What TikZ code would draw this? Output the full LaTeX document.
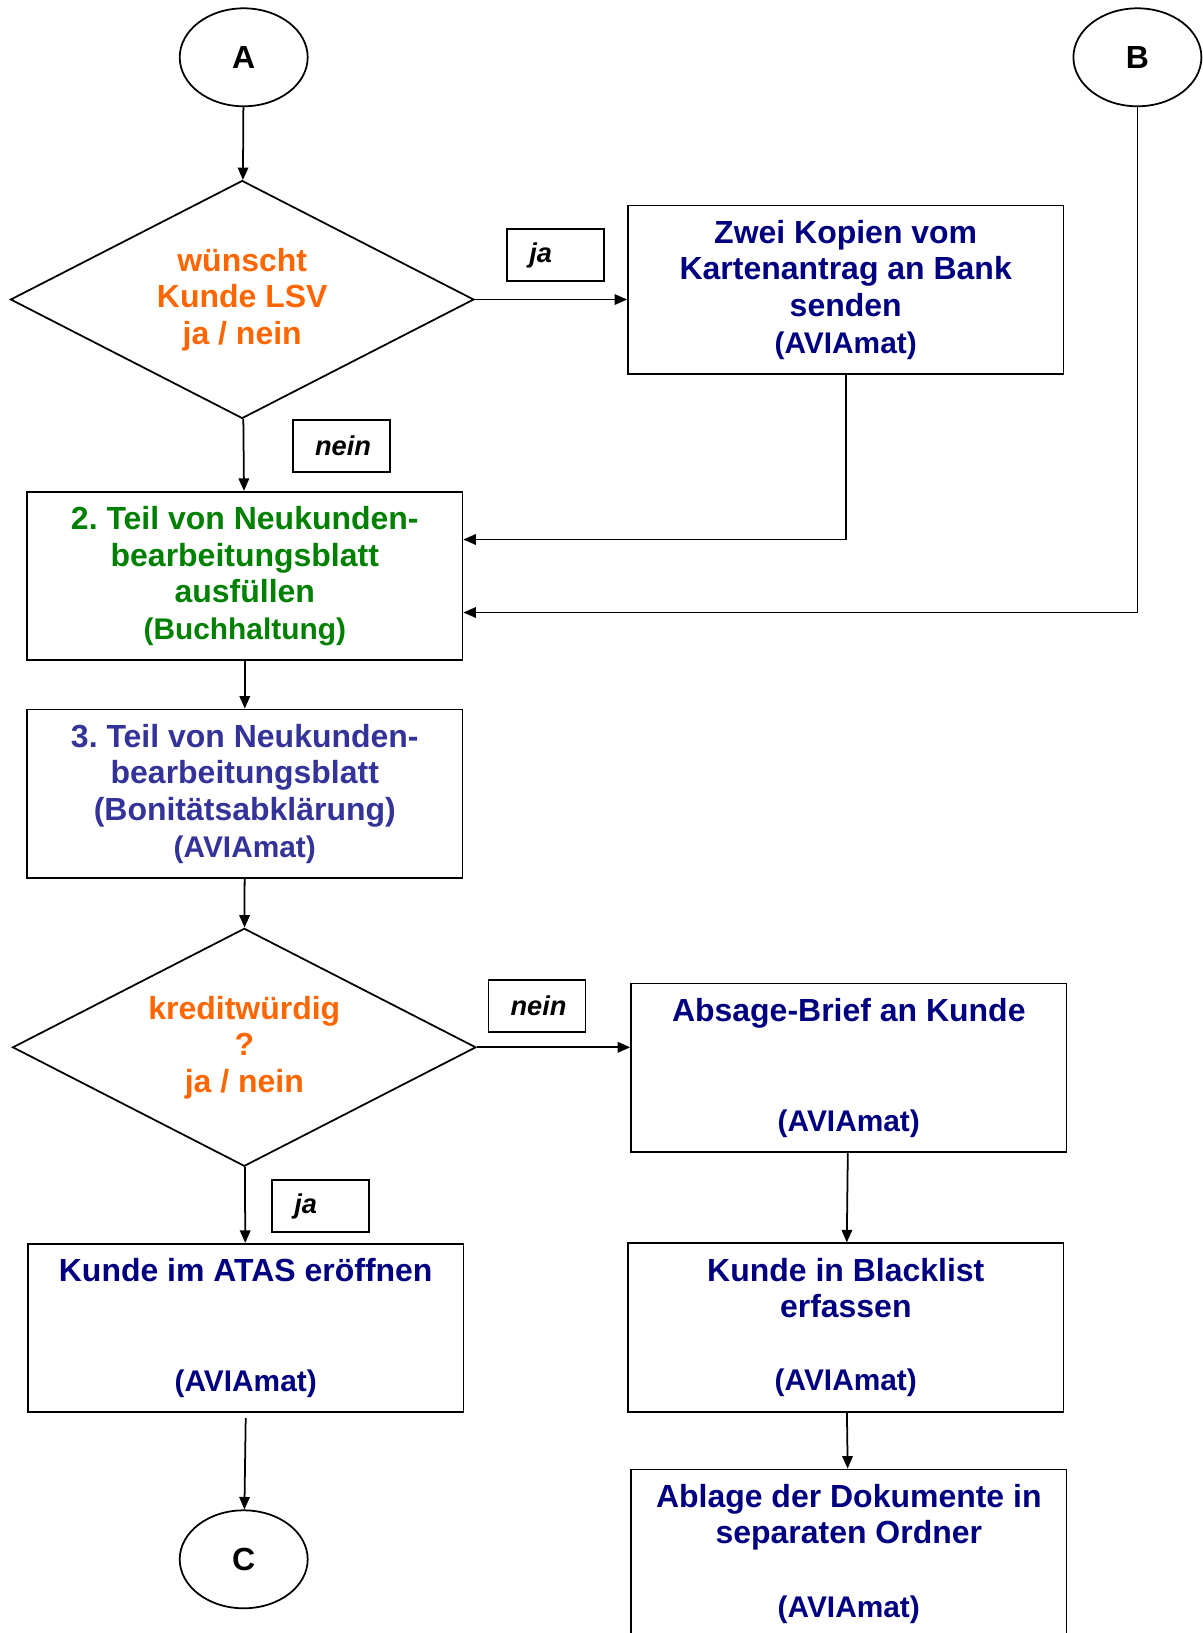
\documentclass[tikz,border=0pt]{standalone}
\usepackage{fontspec}
\setmainfont{Liberation Sans}
\usepackage{tikz}
\usetikzlibrary{arrows.meta,shapes.geometric}
\definecolor{navy}{HTML}{000080}
\definecolor{orng}{HTML}{FF6600}
\definecolor{grn}{HTML}{008000}
\definecolor{teilblau}{HTML}{333399}
\newcommand{\grosz}{\fontsize{18.2}{20.8}\selectfont}
\newcommand{\klein}{\fontsize{17}{20.8}\selectfont}
\newcommand{\lblfont}{\fontsize{15.5}{18}\selectfont}
\frenchspacing

\begin{document}
\begin{tikzpicture}[x=0.02cm,y=-0.02cm,
  every node/.style={font=\bfseries\grosz},
  box/.style={draw,line width=1pt,minimum width=8.71cm,minimum height=3.37cm,align=center,inner sep=0pt,text=navy},
  raute/.style={draw,line width=1pt,shape=diamond,aspect=2,minimum width=9.27cm,minimum height=4.76cm,inner sep=0pt,align=center,text=orng},
  kreis/.style={draw,line width=1pt,shape=ellipse,minimum width=2.56cm,minimum height=1.96cm,inner sep=0pt},
  lbl/.style={draw,line width=1pt,minimum height=1.04cm,inner xsep=0.44cm,inner ysep=0pt,text width=1.06cm,align=left,font=\bfseries\itshape\lblfont},
  pfeil/.style={line width=1pt,-{Triangle[length=0.25cm,width=0.21cm]}}]
\useasboundingbox (0,0) rectangle (1203,1633);

\node[kreis] (startA) at (243.7,57.3) {A};
\node[kreis] (startB) at (1137.4,57.3) {B};
\node[raute] (lsv)    at (242.2,299.5) {wünscht\\Kunde LSV\\ja / nein};
\node[box]   (kopien) at (845.7,289.7) {Zwei Kopien vom\\Kartenantrag an Bank\\senden\\{\klein(AVIAmat)}};
\node[lbl]   (lja)    at (555.8,255)   {ja};
\node[lbl]   (lnein)  at (341.5,446)   {nein};
\node[box,text=grn]      (teilzwei) at (244.8,576)   {2. Teil von Neukunden-\\bearbeitungsblatt\\ausfüllen\\{\klein(Buchhaltung)}};
\node[box,text=teilblau] (teildrei) at (244.8,793.7) {3. Teil von Neukunden-\\bearbeitungsblatt\\(Bonitätsabklärung)\\{\klein(AVIAmat)}};
\node[raute] (kredit) at (244.3,1047.3) {kreditwürdig\\?\\ja / nein};
\node[lbl]   (knein)  at (537,1006)    {nein};
\node[box]   (absage) at (848.8,1067.7) {Absage-Brief an Kunde\\[1.464cm]{\klein(AVIAmat)}};
\node[lbl]   (kja)    at (320.8,1206)  {ja};
\node[box]   (atas)   at (245.7,1328)  {Kunde im ATAS eröffnen\\[1.464cm]{\klein(AVIAmat)}};
\node[box]   (blacklist) at (845.8,1327.5) {Kunde in Blacklist\\erfassen\\[0.732cm]{\klein(AVIAmat)}};
\node[box]   (ablage) at (848.8,1553.7) {Ablage der Dokumente in\\separaten Ordner\\[0.732cm]{\klein(AVIAmat)}};
\node[kreis] (endC)   at (243.7,1559.3) {C};

\draw[pfeil] (startA) -- (lsv);
\draw[pfeil] (lsv.east) -- (lsv.east -| kopien.west);
\draw[pfeil] (lsv) -- (teilzwei);
\draw[pfeil] (kopien.south) |- ([yshift=0.73cm]teilzwei.east);
\draw[pfeil] (startB) |- ([yshift=-0.73cm]teilzwei.east);
\draw[pfeil] (teilzwei) -- (teildrei);
\draw[pfeil] (teildrei) -- (kredit);
\draw[pfeil] (kredit.east) -- (kredit.east -| absage.west);
\draw[pfeil] (kredit) -- (atas);
\draw[pfeil] (absage) -- (blacklist);
\draw[pfeil] (blacklist) -- (ablage);
\draw[pfeil] ([yshift=-0.1cm]atas.south) -- (endC);
\end{tikzpicture}
\end{document}
